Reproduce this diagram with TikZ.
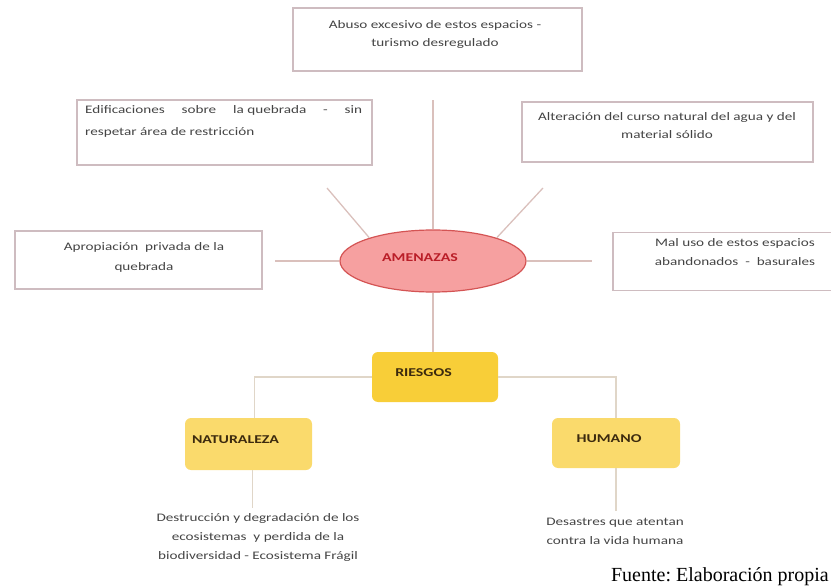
\documentclass[tikz,border=0pt]{standalone}
\usepackage{fontspec}
\usetikzlibrary{shapes.geometric}
\setmainfont{Carlito}[FakeStretch=1.32]
\newfontfamily\fuentefont{Liberation Serif}
\definecolor{boxline}{RGB}{206,188,192}
\definecolor{wire}{RGB}{218,192,188}
\definecolor{stemcol}{RGB}{224,214,200}
\definecolor{amenfill}{RGB}{246,160,160}
\definecolor{amenline}{RGB}{212,84,84}
\definecolor{amentext}{RGB}{186,30,40}
\definecolor{riesfill}{RGB}{248,206,56}
\definecolor{leaffill}{RGB}{250,218,108}
\definecolor{inktext}{RGB}{68,68,68}
\definecolor{leaftext}{RGB}{60,42,14}

\begin{document}
\begin{tikzpicture}[x=1pt,y=1pt]
	\tikzstyle{every node}+=[inner sep=0pt]
	\tikzstyle{hazard}=[draw=boxline, line width=1.8pt, rectangle]
	\tikzstyle{hazardtext}=[align=center, text=inktext, font=\fontsize{11.5}{18}\selectfont]
	\tikzstyle{leaf}=[rounded corners=6pt, rectangle, text height=8.5pt, text depth=10pt, font=\bfseries\fontsize{12}{14}\selectfont, text=leaftext]
	\tikzstyle{link}=[draw=wire, line width=1.3pt]
	\tikzstyle{stem}=[draw=stemcol, line width=1.6pt]
	\useasboundingbox (0,0) rectangle (831,-586);
	\clip (0,0) rectangle (831,-586);
	\node [hazard, minimum width=289pt, minimum height=63pt] (abuso) at (437.5,-39.5) {};
	\node [hazardtext] (abusotext) at (435,-34) {Abuso excesivo de estos espacios -\\turismo desregulado};
	\node [hazard, minimum width=295pt, minimum height=65pt] (edif) at (224.5,-132.5) {};
	\node [hazardtext, align=left, anchor=north west, font=\fontsize{11.5}{22}\selectfont] (ediftext) at (85,-105) {\hbox to 277pt{Edificaciones\hfill sobre\hfill la quebrada\hfill -\hfill sin}\\respetar área de restricción};
	\node [hazard, minimum width=291pt, minimum height=60pt] (alter) at (667.5,-132) {};
	\node [hazardtext] (altertext) at (667,-126) {Alteración del curso natural del agua y del\\material sólido};
	\node [hazard, minimum width=230pt, minimum height=58pt] (maluso) at (728,-261.5) {};
	\node [hazardtext, font=\fontsize{11.5}{19}\selectfont] (malusotext) at (735,-252.5) {Mal uso de estos espacios\\abandonados\ \ -\ \ basurales};
	\node [hazard, minimum width=247pt, minimum height=58pt] (aprop) at (138.5,-260) {};
	\node [hazardtext, font=\fontsize{11.5}{20}\selectfont] (aproptext) at (144,-257) {Apropiación\ \ privada de la\\quebrada};
	\node [ellipse, draw=amenline, fill=amenfill, line width=1.2pt, minimum width=186pt, minimum height=62pt, text height=8.5pt, text depth=8pt, font=\bfseries\fontsize{12}{14}\selectfont, text=amentext] (amenazas) at (433,-261) {AMENAZAS\kern26pt};
	\node [leaf, fill=riesfill, minimum width=126pt, minimum height=50pt] (riesgos) at (435,-377) {RIESGOS\kern23pt};
	\node [leaf, fill=leaffill, minimum width=127pt, minimum height=52pt] (naturaleza) at (248.5,-444) {NATURALEZA\kern26pt};
	\node [leaf, fill=leaffill, minimum width=128pt, minimum height=50pt] (humano) at (616,-443) {HUMANO\kern14pt};
	\node [hazardtext, font=\fontsize{11.5}{19}\selectfont] (naturdesc) at (258,-537) {Destrucción y degradación de los\\ecosistemas\ \ y perdida de la\\biodiversidad - Ecosistema Frágil};
	\node [hazardtext, font=\fontsize{11.5}{19}\selectfont] (humdesc) at (615,-531) {Desastres que atentan\\contra la vida humana};
	\node [anchor=base east, font=\fuentefont\fontsize{20}{22}\selectfont] (fuente) at (829,-581) {Fuente:\ Elaboración propia};
	\coordinate (topend) at (433,-100);
	\coordinate (nwend) at (327,-188);
	\coordinate (neend) at (543,-188);
	\coordinate (wend) at (275,-261);
	\coordinate (eend) at (592,-261);
	\draw [link] (amenazas.north) -- (topend);
	\draw [link] (amenazas.160) -- (nwend);
	\draw [link] (amenazas.20) -- (neend);
	\draw [link] (amenazas.west) -- (wend);
	\draw [link] (amenazas.east) -- (eend);
	\draw [link] (amenazas.south) -- (amenazas.south |- riesgos.north);
	\draw [stem] (riesgos.west) -| ([xshift=6pt]naturaleza.north);
	\draw [stem] (riesgos.east) -| (humano.north);
	\draw [stem, shorten >=5pt] ([xshift=4pt]naturaleza.south) -- ([xshift=4pt]naturaleza.south |- naturdesc.north);
	\draw [stem, shorten >=7pt] (humano.south) -- (humano.south |- humdesc.north);
\end{tikzpicture}
\end{document}
